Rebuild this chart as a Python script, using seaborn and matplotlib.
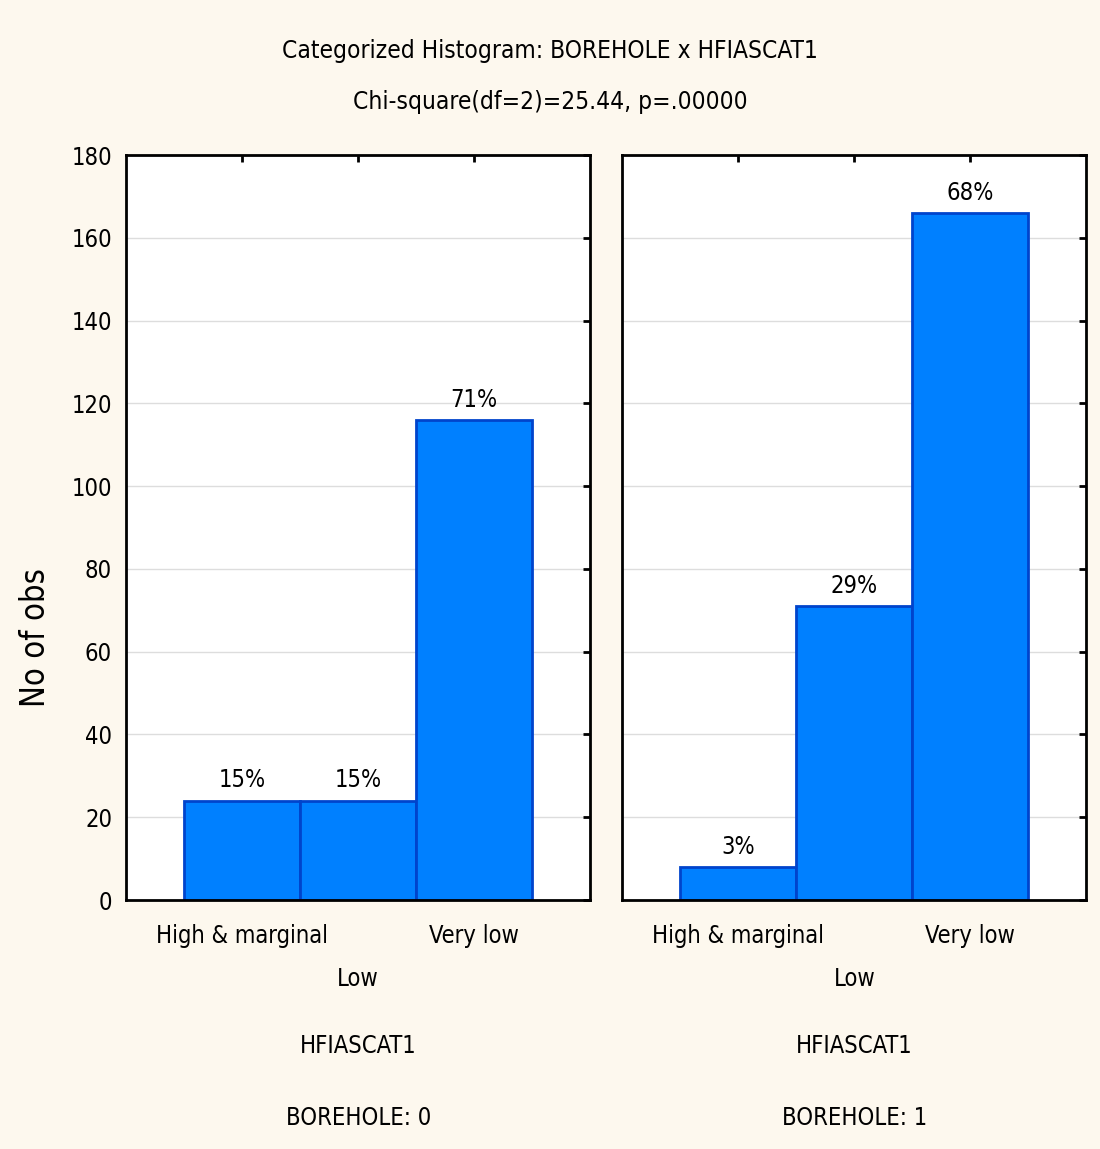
import pandas as pd
import seaborn as sns
import matplotlib.pyplot as plt

sns.set_style('white')
plt.rcParams['font.family'] = ['DejaVu Sans']
plt.rcParams['font.stretch'] = 'condensed'
plt.rcParams['text.color'] = 'black'
plt.rcParams['xtick.color'] = 'black'
plt.rcParams['ytick.color'] = 'black'
plt.rcParams['axes.labelcolor'] = 'black'

categories = ['High & marginal', 'Low', 'Very low']
borehole_0 = [24, 24, 116]
borehole_1 = [8, 71, 166]
groups = ['0', '1']
title = 'Categorized Histogram: BOREHOLE x HFIASCAT1'
subtitle = 'Chi-square(df=2)=25.44, p=.00000'

bg = '#fdf8ee'
bar_color = '#0080ff'
edge_color = '#0044cc'
fs = 17

fig = plt.figure(figsize=(11, 11.49), dpi=100, facecolor=bg)
fig.text(0.5, 0.956, title, ha='center', va='center', fontsize=17.6)
fig.text(0.5, 0.911, subtitle, ha='center', va='center', fontsize=17.6)

panels = [(0.1145, borehole_0, groups[0]), (0.5655, borehole_1, groups[1])]
for left, counts, grp in panels:
    ax = fig.add_axes([left, 0.2167, 0.4222, 0.6484])
    df = pd.DataFrame({'cat': categories, 'n': counts})
    sns.barplot(data=df, x='cat', y='n', order=categories, color=bar_color,
                width=1.0, edgecolor=edge_color, linewidth=2, saturation=1, ax=ax)
    total = sum(counts)
    labels = [f'{round(100 * c / total):.0f}%' for c in counts]
    ax.bar_label(ax.containers[0], labels=labels, padding=6, fontsize=fs)
    ax.set_xlim(-1, 3)
    ax.set_ylim(0, 180)
    ax.set_yticks(range(0, 181, 20))
    ax.yaxis.grid(True, color='#dddddd', linewidth=1)
    ax.set_axisbelow(True)
    ax.set_facecolor('white')
    for s in ax.spines.values():
        s.set_color('black')
        s.set_linewidth(2)
    ax.tick_params(axis='both', direction='in', length=5, width=2,
                   labelsize=fs, top=True, right=True)
    ax.tick_params(axis='x', pad=17)
    ax.tick_params(axis='y', pad=10)
    ax.set_xticks(range(len(categories)))
    ax.set_xticklabels(['High & marginal', '\nLow', 'Very low'])
    ax.get_xticklabels()[1].set_linespacing(2.0)
    ax.set_xlabel('')
    ax.set_ylabel('')
    if left < 0.5:
        ax.set_ylabel('No of obs', fontsize=23.5)
        ax.yaxis.set_label_coords(-0.159, 0.352)
    else:
        ax.set_yticklabels([])
    ax.text(0.5, -0.196, 'HFIASCAT1', transform=ax.transAxes, ha='center', va='center', fontsize=fs)
    ax.text(0.5, -0.293, f'BOREHOLE: {grp}', transform=ax.transAxes, ha='center', va='center', fontsize=fs)

plt.savefig('out.png', dpi=100, facecolor=bg)
